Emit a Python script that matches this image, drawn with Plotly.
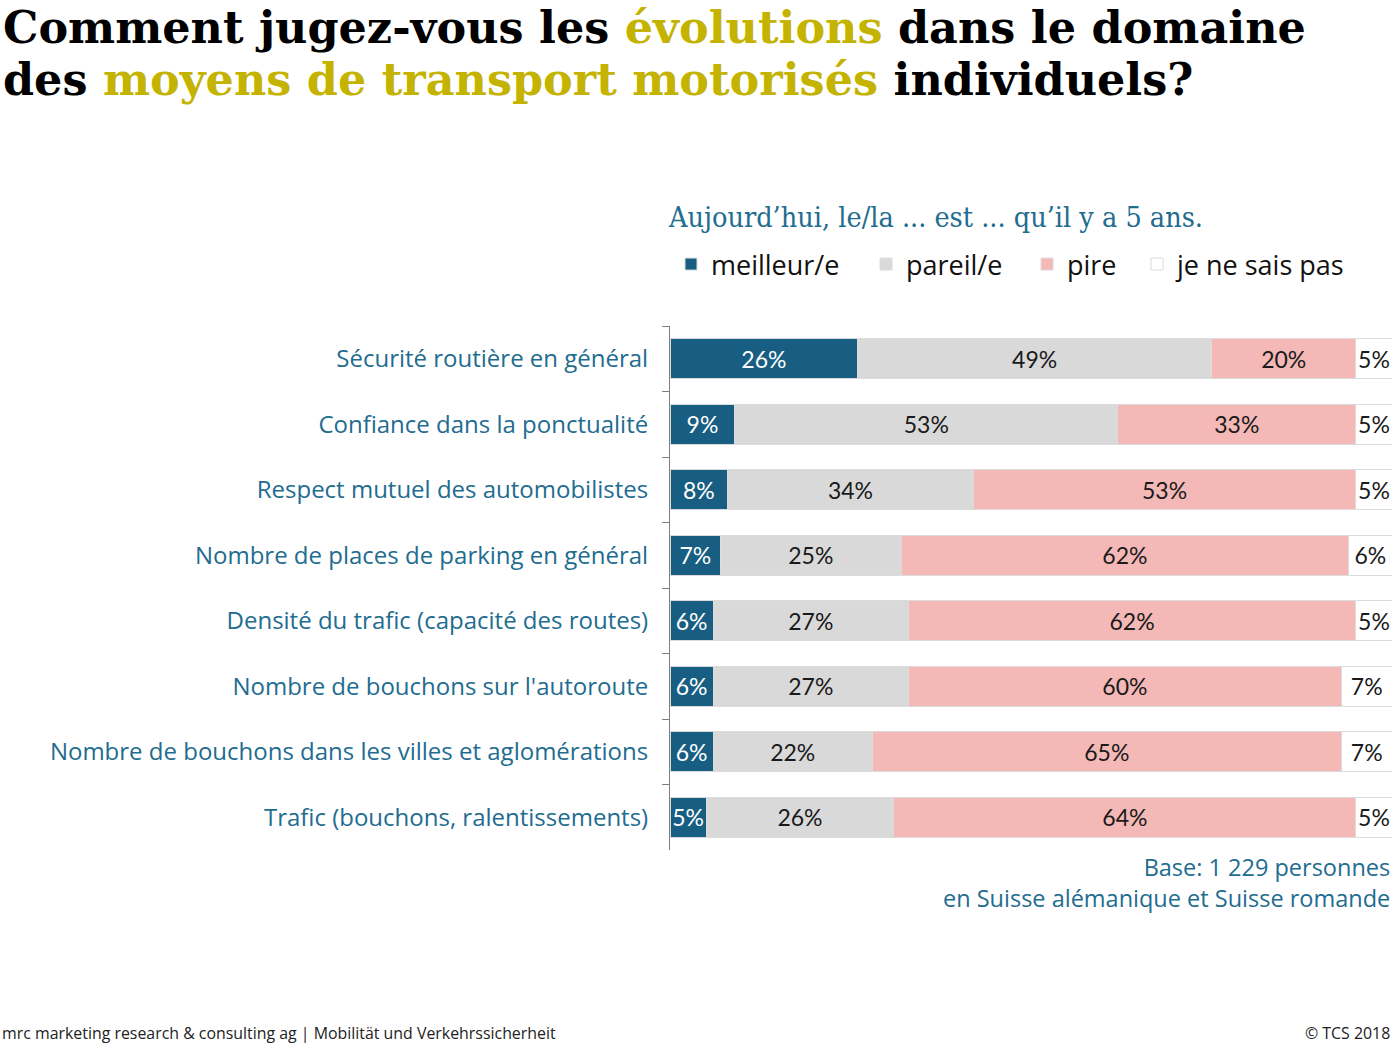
import plotly.graph_objects as go

categories = [
    "Sécurité routière en général",
    "Confiance dans la ponctualité",
    "Respect mutuel des automobilistes",
    "Nombre de places de parking en général",
    "Densité du trafic (capacité des routes)",
    "Nombre de bouchons sur l'autoroute",
    "Nombre de bouchons dans les villes et aglomérations",
    "Trafic (bouchons, ralentissements)",
]
series_names = ["meilleur/e", "pareil/e", "pire", "je ne sais pas"]
meilleur = [26, 9, 8, 7, 6, 6, 6, 5]
pareil = [49, 53, 34, 25, 27, 27, 22, 26]
pire = [20, 33, 53, 62, 62, 60, 65, 64]
nsp = [5, 5, 5, 6, 5, 7, 7, 5]

values = [meilleur, pareil, pire, nsp]
colors = ["#175E82", "#D9D9D9", "#F4B8B6", "#FFFFFF"]
text_colors = ["#FFFFFF", "#1A1A1A", "#1A1A1A", "#1A1A1A"]

TEAL = "#226C90"
OLIVE = "#C4B300"

# pixel -> paper helpers (plot area: x 670..1392, y 326..850)
L, R, T, B = 670, 1392, 326, 850
def xp(px):
    return (px - L) / (R - L)
def yp(py):
    return 1 - (py - T) / (B - T)

legend_names = ["legend", "legend2", "legend3", "legend4"]
legend_left_px = [671, 866, 1027, 1137]

fig = go.Figure()
for name, vals, col, tcol, lg in zip(series_names, values, colors, text_colors, legend_names):
    fig.add_trace(go.Bar(
        y=categories, x=vals, name=name, orientation="h",
        marker=dict(color=col, line=dict(color="#DCDCDC", width=1)),
        text=[f"{v}%" for v in vals], textposition="inside",
        insidetextanchor="middle", textangle=0,
        textfont=dict(family="Lato", size=23, color=tcol),
        hoverinfo="skip", legend=lg,
    ))

legend_common = dict(
    orientation="h", xanchor="left", yanchor="top", y=yp(240),
    font=dict(family="Open Sans", size=27, color="#111111"),
    itemclick=False, bgcolor="rgba(0,0,0,0)",
)
layout_legends = {}
for lg, lx in zip(legend_names, legend_left_px):
    layout_legends[lg] = dict(legend_common, x=xp(lx))

fig.update_layout(
    barmode="stack",
    bargap=0.39,
    width=1400, height=1054,
    margin=dict(l=L, r=1400 - R, t=T, b=1054 - B),
    paper_bgcolor="white", plot_bgcolor="white",
    uniformtext=dict(minsize=23, mode="show"),
    showlegend=True,
    xaxis=dict(range=[0, 100], showgrid=False, zeroline=False, showticklabels=False,
               showline=False, fixedrange=True),
    yaxis=dict(
        autorange="reversed", type="category", tickson="boundaries",
        ticks="outside", ticklen=7, tickcolor="#7F7F7F", tickwidth=1,
        showline=True, linecolor="#7F7F7F", linewidth=1,
        showgrid=False, ticklabelstandoff=16,
        tickfont=dict(family="Open Sans", size=24, color=TEAL),
    ),
    font=dict(family="Open Sans"),
    **layout_legends,
)

# Title (two lines)
title_font = "DejaVu Serif"
fig.add_annotation(
    xref="paper", yref="paper", x=xp(2), y=yp(0),
    xanchor="left", yanchor="top", showarrow=False, align="left", borderpad=0,
    text="<b>Comment jugez-vous les <span style='color:%s'>évolutions</span> dans le domaine</b>" % OLIVE,
    font=dict(family=title_font, size=44.5, color="#000000"),
)
fig.add_annotation(
    xref="paper", yref="paper", x=xp(2), y=yp(52),
    xanchor="left", yanchor="top", showarrow=False, align="left", borderpad=0,
    text="<b>des <span style='color:%s'>moyens de transport motorisés</span> individuels?</b>" % OLIVE,
    font=dict(family=title_font, size=44.5, color="#000000"),
)
# Subtitle
fig.add_annotation(
    xref="paper", yref="paper", x=xp(666), y=yp(199),
    xanchor="left", yanchor="top", showarrow=False,
    text="Aujourd’hui, le/la ... est ... qu’il y a 5 ans.",
    font=dict(family="DejaVu Serif Condensed", size=28.5, color=TEAL),
)
# Base note
fig.add_annotation(
    xref="paper", yref="paper", x=1.0, y=yp(849),
    xanchor="right", yanchor="top", showarrow=False, align="right",
    text="Base: 1 229 personnes<br>en Suisse alémanique et Suisse romande",
    font=dict(family="Open Sans", size=23.5, color=TEAL),
)
# Footer
fig.add_annotation(
    xref="paper", yref="paper", x=xp(0), y=yp(1033),
    xanchor="left", yanchor="middle", showarrow=False,
    text="mrc marketing research &amp; consulting ag | Mobilität und Verkehrssicherheit",
    font=dict(family="Open Sans", size=15.9, color="#222222"),
)
fig.add_annotation(
    xref="paper", yref="paper", x=1.0, y=yp(1033),
    xanchor="right", yanchor="middle", showarrow=False,
    text="© TCS 2018",
    font=dict(family="Open Sans", size=15.9, color="#222222"),
)

fig.write_html("out.html")
